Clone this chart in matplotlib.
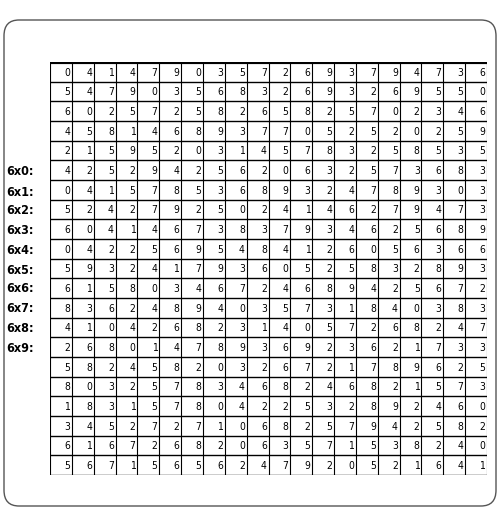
import numpy as np
from matplotlib import pyplot as plt
from matplotlib.patches import FancyBboxPatch

grid_rows = [
    "04147903572693794736",
    "54790356832693269550",
    "60257258265825702346",
    "45814689377052520259",
    "21595203145783258535",
    "42529425620632573683",
    "04157853689324789303",
    "52427925024146279473",
    "60414673837934625689",
    "04225695484126056366",
    "59324179360525832893",
    "61580346724689425672",
    "83624894035731840383",
    "41042682314057268247",
    "26801478936923621733",
    "58245820326721789625",
    "80325783468246821573",
    "18315780422532892460",
    "34527271068257942582",
    "61672682063571538240",
    "56715656247920521641",
]
labels = ["6x0:", "6x1:", "6x2:", "6x3:", "6x4:", "6x5:", "6x6:", "6x7:", "6x8:", "6x9:"]
label_y = [172, 192, 211, 231, 250, 270, 289, 309, 329, 348]

W, H = 500, 528
fig = plt.figure(figsize=(W / 100, H / 100), dpi=100)
box = FancyBboxPatch((4 / W, 22 / H), 492 / W, 486 / H,
                     boxstyle="round,pad=0,rounding_size=0.03",
                     transform=fig.transFigure, fc="white", ec="#555555", lw=1, zorder=-5)
fig.patches.append(box)

x0, x1, y0, y1 = 50, 487, 62, 475
ax = fig.add_axes([x0 / W, 1 - y1 / H, (x1 - x0) / W, (y1 - y0) / H], zorder=2)
ax.patch.set_alpha(0)
nr, nc = len(grid_rows), len(grid_rows[0])
ax.set_xlim(0, nc)
ax.set_ylim(nr, 0)
ax.axis("off")
for r in range(nr + 1):
    ax.axhline(r, color="black", lw=3 if r == 0 else 1)
for c in range(nc + 1):
    ax.axvline(c, color="black", lw=0.8)
for r, row in enumerate(grid_rows):
    for c, ch in enumerate(row):
        ax.text(c + 0.92, r + 0.55, ch, ha="right", va="center", fontsize=7.5,
                family="DejaVu Sans", stretch="condensed")

for lab, yy in zip(labels, label_y):
    fig.text(6 / W, 1 - yy / H, lab, ha="left", va="center", fontsize=9, fontweight="bold",
             family="DejaVu Sans", stretch="condensed", zorder=3)

fig.savefig("out.png", dpi=100)
